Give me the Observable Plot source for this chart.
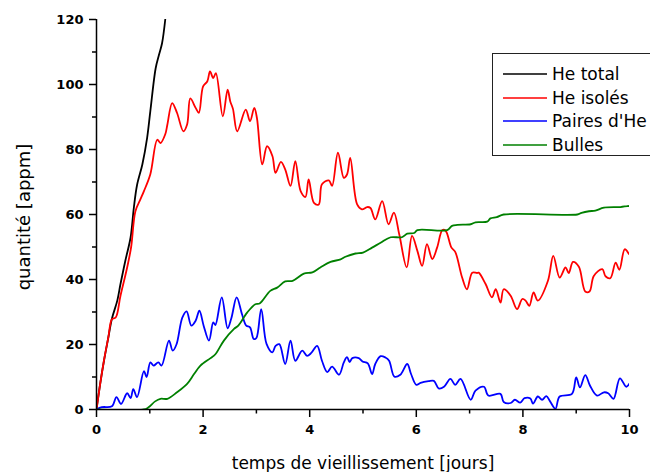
<!DOCTYPE html>
<html>
<head>
<meta charset="utf-8">
<script src="https://cdn.jsdelivr.net/npm/d3@7"></script>
<script src="https://cdn.jsdelivr.net/npm/@observablehq/plot@0.6"></script>
<style>
  html, body { margin: 0; padding: 0; background: #fff; overflow: hidden; }
  #wrap { position: relative; width: 650px; height: 472px; overflow: hidden; background: #fff; }
  #legend { position: absolute; left: 492px; top: 53px; width: 175px; height: 103px;
            border: 1px solid #222; background: #fff; box-sizing: border-box;
            font-family: "DejaVu Sans", sans-serif; font-size: 17px; color: #000; }
  .row { position: absolute; left: 0; width: 200px; height: 24px; line-height: 24px; white-space: nowrap; }
  .swatch { position: absolute; left: 10px; top: 0; }
  .lbl { position: absolute; left: 59px; top: 0; }
</style>
</head>
<body>
<div id="wrap"></div>
<script>
// ---- data ----
const seriesNames = ["He total", "He isolés", "Paires d'He", "Bulles"];
const seriesColors = ["#000000", "#ff0000", "#0000ff", "#008000"];

const totalX = [0, 0.07, 0.14, 0.22, 0.29, 0.39, 0.45, 0.54, 0.64, 0.70, 0.76, 0.86, 0.95, 1.01, 1.11, 1.17, 1.23, 1.29];
const totalY = [0, 8, 15, 22, 28, 33.5, 38.6, 45.7, 53, 62, 69, 75.4, 83.6, 91.8, 105, 109, 112.7, 120];

const isolesX = [0, 0.07, 0.15, 0.22, 0.29, 0.36, 0.45, 0.575, 0.65, 0.73, 0.825, 0.89, 1.01, 1.14, 1.2, 1.29, 1.33, 1.42, 1.51, 1.63, 1.70, 1.76, 1.86, 1.92, 2.0, 2.08, 2.13, 2.19, 2.24, 2.37, 2.46, 2.51, 2.56, 2.64, 2.80, 2.88, 2.96, 3.01, 3.11, 3.2, 3.30, 3.36, 3.46, 3.54, 3.64, 3.73, 3.83, 3.92, 3.98, 4.08, 4.17, 4.23, 4.36, 4.42, 4.53, 4.64, 4.70, 4.76, 4.89, 4.98, 5.08, 5.14, 5.23, 5.36, 5.48, 5.58, 5.68, 5.82, 5.92, 6.02, 6.11, 6.20, 6.30, 6.39, 6.49, 6.55, 6.66, 6.73, 6.86, 6.95, 7.05, 7.14, 7.17, 7.30, 7.42, 7.49, 7.58, 7.64, 7.77, 7.89, 7.99, 8.05, 8.12, 8.20, 8.28, 8.47, 8.57, 8.69, 8.80, 8.86, 8.94, 9.05, 9.17, 9.25, 9.33, 9.49, 9.55, 9.64, 9.74, 9.81, 9.91, 9.99];
const isolesY = [0, 8, 16, 22, 27.8, 28.3, 35, 43.7, 50, 61, 64.7, 67.2, 72.4, 83, 82, 84.7, 87.7, 94.3, 91.3, 85.6, 87.7, 95.7, 92.8, 91.3, 99.4, 101, 104, 102, 103.5, 90.2, 98.4, 94.8, 92.5, 85.6, 92.3, 88.7, 92.8, 89.7, 75.4, 81, 78, 72.8, 76.2, 73.9, 68.8, 76.4, 67.2, 65.4, 70.8, 63.6, 63.1, 69.3, 70.5, 68.8, 79, 71.3, 72.3, 77.4, 63.1, 61.6, 62.3, 62, 58.5, 64.1, 57, 60.6, 53.9, 43.7, 53.4, 48.8, 44.2, 50.9, 46.3, 49.8, 55.2, 55, 49.8, 48.5, 40.6, 37, 42.1, 42, 42.1, 38.6, 34.5, 37, 32.9, 37, 35, 30.9, 34, 33.5, 31.9, 36, 33.5, 39.6, 47.3, 40.6, 43.7, 42, 45.4, 43.9, 36.3, 36.3, 41.1, 43.2, 41, 40.4, 45.2, 43, 49.3, 47.8];

const pairesX = [0, 0.1, 0.29, 0.375, 0.46, 0.575, 0.64, 0.69, 0.76, 0.89, 0.94, 1.01, 1.07, 1.16, 1.22, 1.36, 1.43, 1.50, 1.61, 1.69, 1.78, 1.86, 1.93, 2.01, 2.11, 2.19, 2.23, 2.35, 2.46, 2.53, 2.63, 2.73, 2.81, 2.88, 2.95, 3.0, 3.09, 3.19, 3.30, 3.36, 3.43, 3.54, 3.64, 3.73, 3.86, 3.95, 4.03, 4.14, 4.23, 4.33, 4.42, 4.55, 4.64, 4.70, 4.75, 4.80, 4.92, 4.99, 5.09, 5.17, 5.23, 5.33, 5.42, 5.49, 5.59, 5.70, 5.83, 5.90, 6.0, 6.08, 6.23, 6.33, 6.42, 6.52, 6.64, 6.73, 6.83, 7.02, 7.11, 7.27, 7.35, 7.58, 7.64, 7.77, 7.85, 7.95, 8.03, 8.14, 8.19, 8.28, 8.36, 8.44, 8.51, 8.61, 8.69, 8.92, 9.0, 9.07, 9.17, 9.26, 9.39, 9.52, 9.60, 9.70, 9.82, 9.94, 10.0];
const pairesY = [0, 0.7, 1, 3.8, 1.7, 5, 3.5, 6.3, 3.8, 11.8, 10, 14.5, 13.5, 14.5, 13.5, 21.2, 18.1, 20, 28.3, 30.2, 25.8, 27.3, 30.4, 25.8, 21.2, 26.8, 26, 34.5, 25, 28.1, 34.5, 29.3, 25.8, 25.3, 21.7, 22, 30.9, 20.2, 17.6, 19.6, 20.1, 14, 21.2, 15, 18.1, 16.5, 17.4, 19.6, 15, 11.5, 13.2, 10.7, 14.5, 16.1, 14.6, 15.8, 15.8, 14.8, 14.2, 10.9, 14, 16.4, 16, 15, 10.1, 10.7, 14, 11, 7.6, 8.2, 8.7, 8.8, 6.5, 7, 9.4, 7.6, 9.4, 3, 5.8, 7, 4.3, 4.8, 2.3, 2, 3, 2.1, 3.5, 3.4, 1.8, 4, 3, 4.1, 2.5, 0.2, 4, 4.8, 9.9, 6.8, 10.6, 7.3, 4.3, 5.3, 5, 3.3, 9.6, 7, 8];

const bullesX = [0, 0.89, 0.97, 1.1, 1.2, 1.33, 1.51, 1.70, 1.83, 1.95, 2.14, 2.23, 2.39, 2.58, 2.66, 2.83, 2.98, 3.06, 3.26, 3.39, 3.54, 3.68, 3.89, 4.05, 4.2, 4.39, 4.58, 4.67, 4.86, 5.0, 5.17, 5.33, 5.52, 5.73, 5.83, 5.96, 6.02, 6.58, 6.67, 6.77, 7.02, 7.11, 7.33, 7.39, 7.51, 7.64, 9.02, 9.1, 9.24, 9.36, 9.52, 9.83, 9.96, 10];
const bullesY = [0, 0, 0.6, 2.5, 3.3, 3.3, 5.3, 7.9, 10.9, 13.5, 15.8, 17, 21.2, 24.8, 25.8, 29.9, 32.4, 32.6, 36.5, 37.5, 39.4, 39.6, 41.8, 42.2, 43.7, 45.4, 46.2, 47, 48, 48.3, 49.8, 51.3, 53, 53, 54.1, 54.3, 55.2, 55.2, 56.5, 56.8, 57, 57.6, 57.8, 58.8, 59.2, 60, 60, 60.5, 61, 61.2, 62.1, 62.3, 62.6, 62.6];

const xMajorTicks = [0, 2, 4, 6, 8, 10];
const xMinorTicks = [1, 3, 5, 7, 9];
const yMajorTicks = [0, 20, 40, 60, 80, 100, 120];
const yMinorTicks = [10, 30, 50, 70, 90, 110];
const xLabel = "temps de vieillissement [jours]";
const yLabel = "quantité [appm]";

// ---- build tables ----
const toRows = (xs, ys) => xs.map((x, i) => ({x, y: ys[i]}));
const series = [
  toRows(totalX, totalY),
  toRows(isolesX, isolesY),
  toRows(pairesX, pairesY),
  toRows(bullesX, bullesY)
];

const lineMarks = series.map((rows, i) =>
  Plot.line(rows, {x: "x", y: "y", stroke: seriesColors[i], strokeWidth: 1.8, curve: "catmull-rom", clip: true})
);

const chart = Plot.plot({
  width: 650,
  height: 472,
  marginLeft: 96,
  marginRight: 21,
  marginTop: 19,
  marginBottom: 63,
  x: {domain: [0, 10]},
  y: {domain: [0, 120]},
  style: {fontFamily: "DejaVu Sans", background: "white", color: "black"},
  marks: [
    ...lineMarks,
    Plot.ruleX([0], {stroke: "black", strokeWidth: 1.5}),
    Plot.ruleY([0], {stroke: "black", strokeWidth: 1.5}),
    Plot.axisX({ticks: xMajorTicks, tickSize: 8, tickPadding: 7, fontSize: 13, fontWeight: "bold", label: null, strokeWidth: 1.5}),
    Plot.axisX({ticks: xMinorTicks, tickSize: 4.5, text: null, label: null, strokeWidth: 1.5}),
    Plot.axisY({ticks: yMajorTicks, tickSize: 7, tickPadding: 6, fontSize: 13, fontWeight: "bold", label: null, strokeWidth: 1.5}),
    Plot.axisY({ticks: yMinorTicks, tickSize: 4, text: null, label: null, strokeWidth: 1.5}),
    Plot.text([xLabel], {text: d => d, frameAnchor: "bottom", dy: 59, lineAnchor: "bottom", textAnchor: "middle", fontSize: 17, fill: "black"}),
    Plot.text([yLabel], {text: d => d, frameAnchor: "left", dx: -66.5, dy: 2.5, rotate: -90, lineAnchor: "bottom", textAnchor: "middle", fontSize: 18, fill: "black"})
  ]
});

const wrap = document.getElementById("wrap");
wrap.appendChild(chart);

// ---- legend (HTML overlay, clipped by the window edge like the reference) ----
const legend = document.createElement("div");
legend.id = "legend";
seriesNames.forEach((name, i) => {
  const row = document.createElement("div");
  row.className = "row";
  row.style.top = Math.round(8 + i * 23.6) + "px";
  const ns = "http://www.w3.org/2000/svg";
  const sw = document.createElementNS(ns, "svg");
  sw.setAttribute("class", "swatch");
  sw.setAttribute("width", "44");
  sw.setAttribute("height", "24");
  const ln = document.createElementNS(ns, "line");
  ln.setAttribute("x1", "0");
  ln.setAttribute("x2", "44");
  ln.setAttribute("y1", "12");
  ln.setAttribute("y2", "12");
  ln.setAttribute("stroke", seriesColors[i]);
  ln.setAttribute("stroke-width", "1.5");
  sw.appendChild(ln);
  const lb = document.createElement("span");
  lb.className = "lbl";
  lb.textContent = name;
  row.appendChild(sw);
  row.appendChild(lb);
  legend.appendChild(row);
});
wrap.appendChild(legend);
</script>
</body>
</html>
